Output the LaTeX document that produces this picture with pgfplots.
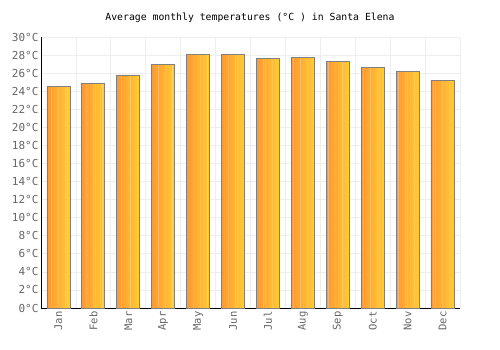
\documentclass[border=0pt]{standalone}
\usepackage{pgfplots}
\usepackage{pgfplotstable}
\pgfplotsset{compat=1.18}
\usepackage{fontspec}
\setmainfont{DejaVu Sans Mono}
\setmonofont{DejaVu Sans Mono}
\definecolor{barL}{HTML}{FF9A30}
\definecolor{barR}{HTML}{FFC835}
\definecolor{gridc}{HTML}{EEEEEE}
\definecolor{tickc}{HTML}{666666}
\pgfplotstableread{
x y
0 24.5
1 24.9
2 25.8
3 27.0
4 28.1
5 28.1
6 27.65
7 27.75
8 27.3
9 26.65
10 26.2
11 25.2
}\temps
\pgfplotsset{strip/.style={ybar, bar width=0.07, draw=none, bar shift=#1}}
\begin{document}
\begin{tikzpicture}
\begin{axis}[
  scale only axis, width=419pt, height=271pt,
  xmin=-0.5, xmax=11.5, ymin=0, ymax=30,
  axis lines*=left,
  axis line style={black, line width=0.8pt},
  xtick={0,...,11},
  xticklabels={Jan,Feb,Mar,Apr,May,Jun,Jul,Aug,Sep,Oct,Nov,Dec},
  x tick label style={rotate=90, anchor=east, font=\fontsize{10.5}{12}\selectfont, text=tickc},
  minor xtick={-0.5,0.5,...,11.5},
  ytick={0,2,...,30},
  yticklabel={\pgfmathprintnumber[assume math mode=true]{\tick}°C},
  y tick label style={font=\fontsize{11}{12}\selectfont, text=tickc, xshift=1pt},
  major tick length=0pt, minor tick length=0pt,
  ymajorgrids, xminorgrids,
  grid style={gridc, line width=0.7pt},
  minor grid style={gridc, line width=0.7pt},
  clip=false,
]
\draw[gridc, line width=0.7pt] (axis cs:11.5,0) -- (axis cs:11.5,30);
\addplot[strip=-0.297, fill=barR!0!barL] table[x=x,y=y] {\temps};
\addplot[strip=-0.231, fill=barR!11!barL] table[x=x,y=y] {\temps};
\addplot[strip=-0.165, fill=barR!22!barL] table[x=x,y=y] {\temps};
\addplot[strip=-0.099, fill=barR!33!barL] table[x=x,y=y] {\temps};
\addplot[strip=-0.033, fill=barR!44!barL] table[x=x,y=y] {\temps};
\addplot[strip=0.033, fill=barR!56!barL] table[x=x,y=y] {\temps};
\addplot[strip=0.099, fill=barR!67!barL] table[x=x,y=y] {\temps};
\addplot[strip=0.165, fill=barR!78!barL] table[x=x,y=y] {\temps};
\addplot[strip=0.231, fill=barR!89!barL] table[x=x,y=y] {\temps};
\addplot[strip=0.297, fill=barR!100!barL] table[x=x,y=y] {\temps};
\addplot[ybar, bar width=0.66, bar shift=0, draw=gray, line width=0.8pt, fill=none] table[x=x,y=y] {\temps};
\end{axis}
\node[font=\fontsize{9.8}{11}\selectfont] at (209pt,290pt) {Average monthly temperatures (°C ) in Santa Elena};
\useasboundingbox (-41pt,-42pt) rectangle (459pt,308pt);
\end{tikzpicture}
\end{document}
